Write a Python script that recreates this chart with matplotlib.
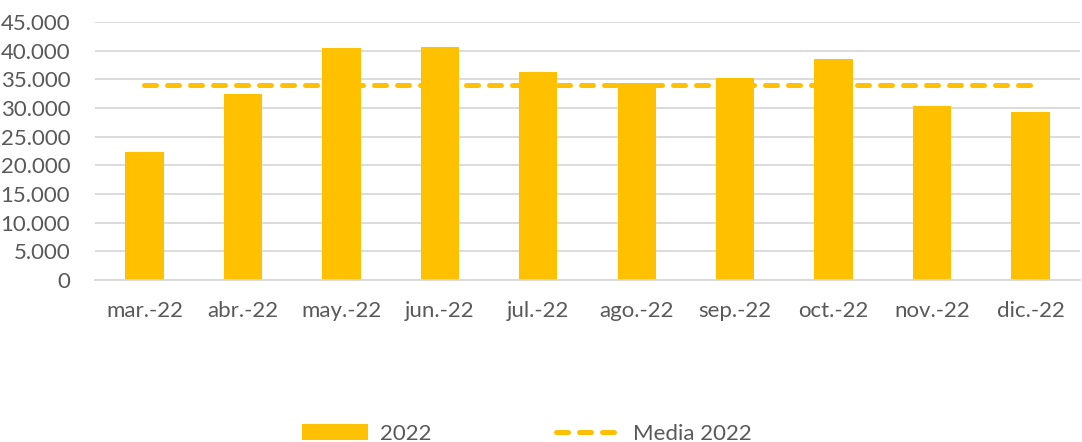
import numpy as np
import matplotlib.pyplot as plt
from matplotlib.ticker import FuncFormatter

# Datos
meses = ['mar.-22', 'abr.-22', 'may.-22', 'jun.-22', 'jul.-22',
         'ago.-22', 'sep.-22', 'oct.-22', 'nov.-22', 'dic.-22']
valores_2022 = [22300, 32400, 40400, 40600, 36300, 34300, 35200, 38550, 30350, 29350]
media_2022 = [34000] * len(meses)

amarillo = '#FFC000'
gris_texto = '#595959'
gris_rejilla = '#D9D9D9'

plt.rcParams['font.family'] = ['Lato', 'DejaVu Sans']

fig = plt.figure(figsize=(10.82, 4.42), dpi=100)
ax = fig.add_axes([0.088, 0.3665, 0.91, 0.5835])

x = np.arange(len(meses))
barras = ax.bar(x, valores_2022, width=0.39, color=amarillo, label='2022', zorder=2)
linea, = ax.plot(x, media_2022, color=amarillo, lw=3.6, linestyle=(0, (2.4, 2.2)),
                 dash_capstyle='round', label='Media 2022', zorder=3)

ax.set_ylim(0, 45000)
ax.set_xlim(-0.5, len(meses) - 0.5)
ax.set_yticks(np.arange(0, 45001, 5000))
ax.yaxis.set_major_formatter(FuncFormatter(lambda v, p: f'{int(v):,}'.replace(',', '.')))
ax.set_xticks(x)
ax.set_xticklabels(meses)

ax.grid(axis='y', color=gris_rejilla, lw=1.3, zorder=0)
ax.set_axisbelow(True)
for s in ['top', 'right', 'left']:
    ax.spines[s].set_visible(False)
ax.spines['bottom'].set_color(gris_rejilla)
ax.spines['bottom'].set_linewidth(1.3)
ax.tick_params(axis='both', length=0, labelsize=16, labelcolor=gris_texto)
ax.tick_params(axis='x', pad=15)
ax.tick_params(axis='y', pad=18)

fig.legend([barras, linea], ['2022', 'Media 2022'], loc='center',
           bbox_to_anchor=(0.487, 0.018), ncol=2, frameon=False,
           fontsize=16, labelcolor=gris_texto, handlelength=3.0, handletextpad=0.5,
           columnspacing=5.6)

fig.savefig('out.png', dpi=100)
